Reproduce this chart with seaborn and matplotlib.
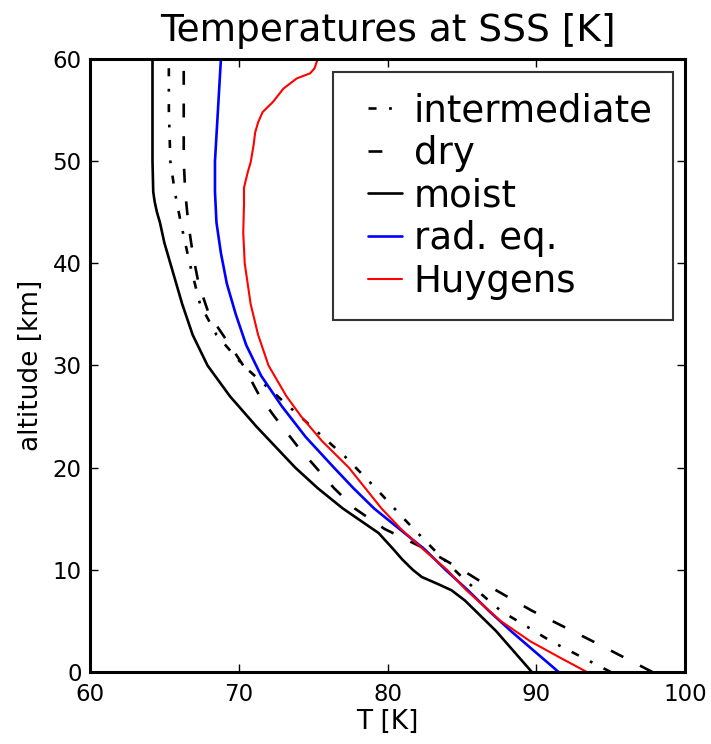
import matplotlib
matplotlib.use('Agg')
import matplotlib.pyplot as plt
import numpy as np
import pandas as pd
import seaborn as sns

# altitude (km) / temperature (K) profiles
moist_z = [0, 2, 4, 6, 7, 8, 8.6, 9.3, 10, 11, 12, 13.6, 14.2, 16, 18, 20, 22, 24, 27, 30, 33,
           36, 40, 42, 44, 45, 46, 47, 50, 55, 60]
moist_T = [89.7, 88.5, 87.3, 85.9, 85.2, 84.3, 83.4, 82.3, 81.7, 81.0, 80.4, 79.4, 78.8, 77.0,
           75.3, 73.8, 72.5, 71.2, 69.4, 67.9, 66.9, 66.2, 65.4, 65.0, 64.7, 64.5, 64.35, 64.25,
           64.2, 64.2, 64.2]

dry_z = [0, 3, 6, 9, 10, 12, 14, 16, 18, 20, 22, 25, 27, 30, 32, 35, 38, 41, 44, 47, 50, 55, 60]
dry_T = [97.8, 93.8, 89.7, 86.1, 85.0, 82.6, 79.8, 77.8, 76.4, 75.2, 74.0, 72.4, 71.4, 70.3,
         69.4, 68.0, 67.3, 66.9, 66.6, 66.4, 66.3, 66.3, 66.3]

inter_z = [0, 3, 6, 9, 12, 15, 18, 21, 24, 27, 30, 33, 36, 40, 44, 47, 50, 55, 60]
inter_T = [95.0, 91.0, 87.6, 85.2, 83.1, 81.1, 79.2, 77.2, 74.9, 72.6, 70.3, 68.5, 67.4, 66.7,
           66.1, 65.7, 65.4, 65.3, 65.3]

radeq_z = [0, 2, 4, 6, 8, 10, 12, 14, 16, 18, 20, 23, 26, 29, 32, 35, 38, 41, 44, 47, 50, 55, 60]
radeq_T = [91.5, 89.9, 88.3, 86.8, 85.4, 83.9, 82.5, 80.8, 79.1, 77.7, 76.4, 74.5, 72.9, 71.5,
           70.5, 69.8, 69.2, 68.8, 68.5, 68.4, 68.4, 68.6, 68.8]

huy_z = [0, 1.4, 3, 5, 8, 10, 12, 14, 16, 18, 20, 22.6, 25, 27, 30, 33, 36, 40, 43, 45.7, 47.4,
         48.9, 49.9, 51.6, 52.8, 53.8, 54.8, 55.8, 57.1, 58.1, 58.6, 59.1, 60]
huy_T = [93.4, 91.6, 89.6, 87.6, 85.3, 84.0, 82.4, 80.9, 79.6, 78.5, 77.4, 75.6, 74.2, 73.2,
         72.0, 71.3, 70.8, 70.4, 70.3, 70.35, 70.35, 70.6, 70.8, 71.0, 71.1, 71.3, 71.6, 72.3,
         73.0, 73.9, 74.8, 75.1, 75.3]

profiles = [
    ('intermediate', inter_T, inter_z, 'black', (0, (5.8, 9, 2, 9)), 1.9),
    ('dry', dry_T, dry_z, 'black', (0, (10, 13.5)), 1.9),
    ('moist', moist_T, moist_z, 'black', '-', 1.9),
    ('rad. eq.', radeq_T, radeq_z, '#0000ff', '-', 1.9),
    ('Huygens', huy_T, huy_z, '#ff0000', '-', 1.5),
]

sns.set_theme(style='ticks')
plt.rcParams['font.family'] = ['DejaVu Sans']
plt.rcParams['lines.scale_dashes'] = False
for key in ['text.color', 'axes.labelcolor', 'xtick.color', 'ytick.color']:
    plt.rcParams[key] = 'black'

fig = plt.figure(figsize=(7.11, 7.44), dpi=100)
ax = fig.add_axes([0.1266, 0.0968, 0.8369, 0.8239])

for name, T, z, c, ls, lw in profiles:
    df = pd.DataFrame({'T': T, 'z': z})
    sns.lineplot(data=df, x='T', y='z', sort=False, estimator=None, color=c,
                 linestyle=ls, linewidth=lw, label=name, ax=ax)

ax.set_xlim(60, 100)
ax.set_ylim(0, 60)
ax.set_xticks([60, 70, 80, 90, 100])
ax.set_yticks([0, 10, 20, 30, 40, 50, 60])
ax.tick_params(direction='in', length=6, width=1, top=True, right=True,
               labelsize=16.5, pad=6)
ax.tick_params(axis='x', pad=8)
for s in ax.spines.values():
    s.set_linewidth(2.2)
    s.set_color('black')

ax.set_xlabel('T [K]', fontsize=19, labelpad=2)
ax.set_ylabel('altitude [km]', fontsize=19, labelpad=6)
ax.set_title('Temperatures at SSS [K]', fontsize=27, pad=13)

leg = ax.legend(loc='upper right', bbox_to_anchor=(0.98, 0.979), borderaxespad=0,
                fontsize=26.7, handlelength=1.3, handletextpad=0.33, labelspacing=0.15,
                borderpad=0.55, frameon=True, fancybox=False)
leg.get_frame().set_edgecolor('black')
leg.get_frame().set_linewidth(1.5)
# handles sit a bit right of the frame edge, as in the original
for line, text in zip(leg.get_lines(), leg.get_texts()):
    xd = np.asarray(line.get_xdata(), dtype=float)
    line.set_xdata(np.linspace(xd[0] + 0.3 * (xd[-1] - xd[0]), xd[-1], len(xd)))
    if text.get_text() == 'dry':
        line.set_linestyle((0, (10, 30)))  # single dash in the key

fig.savefig('out.png', dpi=100)
